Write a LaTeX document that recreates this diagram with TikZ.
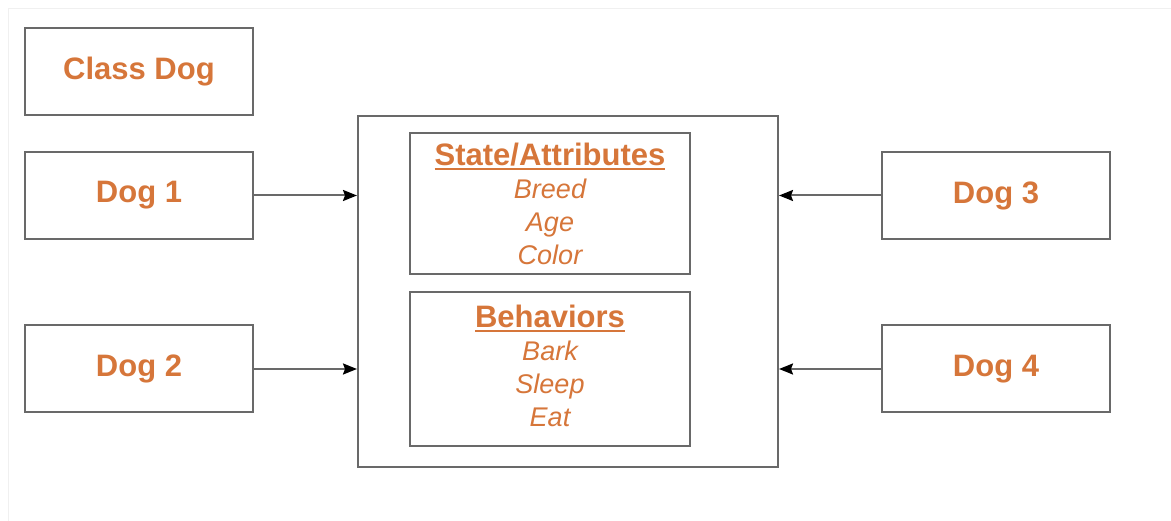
\documentclass[tikz,border=0pt]{standalone}
\usepackage{fontspec}
\setmainfont{Liberation Sans}
\usetikzlibrary{positioning, arrows.meta}

\definecolor{dogorange}{RGB}{214,118,58}
\definecolor{linegray}{RGB}{105,105,105}
\newcommand{\dogul}[1]{\setbox0\hbox{#1}\leavevmode\vtop{\copy0\kern2.5pt\hrule height 2pt width \wd0}}

\begin{document}
\begin{tikzpicture}[x = 1pt, y = -1pt, > = {Stealth[length=14pt, width=11pt, inset=2pt, black]}, line width = 2pt,
    dogbox/.style = {draw=linegray, rectangle, minimum width=228pt, minimum height=87pt, inner sep=0pt,
      text=dogorange, font=\fontsize{31}{34}\selectfont\bfseries},
    partbox/.style = {draw=linegray, rectangle, minimum width=280pt, inner sep=0pt, align=center,
      text=dogorange, font=\fontsize{27}{33}\selectfont\itshape}]
    \useasboundingbox (0,0) rectangle (1171,521);
    \draw[black!6, line width=1pt] (8,521) -- (8,9) -- (1171,9);

    \node[dogbox] (classdog) at (139,72) {Class Dog};
    \node[dogbox] (dog1) at (139,195.5) {Dog 1};
    \node[dogbox] (dog2) at (139,369) {Dog 2};
    \node[dogbox] (dog3) at (996,195.5) {Dog 3};
    \node[dogbox] (dog4) at (996,369) {Dog 4};

    \node[draw=linegray, minimum width=420pt, minimum height=351pt] (obj) at (568,291.5) {};
    \node[partbox, minimum height=141pt] (state) at (550,203.5)
      {{\fontsize{31}{33}\selectfont\upshape\bfseries\dogul{State/Attributes}}\\Breed\\Age\\Color};
    \node[partbox, minimum height=154pt] (behav) at (550,369)
      {{\fontsize{31}{33}\selectfont\upshape\bfseries\dogul{Behaviors}}\\Bark\\Sleep\\Eat\vspace{6pt}};

    \path[->, draw=linegray] (dog1) edge (dog1 -| obj.west)
    (dog2) edge (dog2 -| obj.west)
    (dog3) edge (dog3 -| obj.east)
    (dog4) edge (dog4 -| obj.east);
\end{tikzpicture}
\end{document}
